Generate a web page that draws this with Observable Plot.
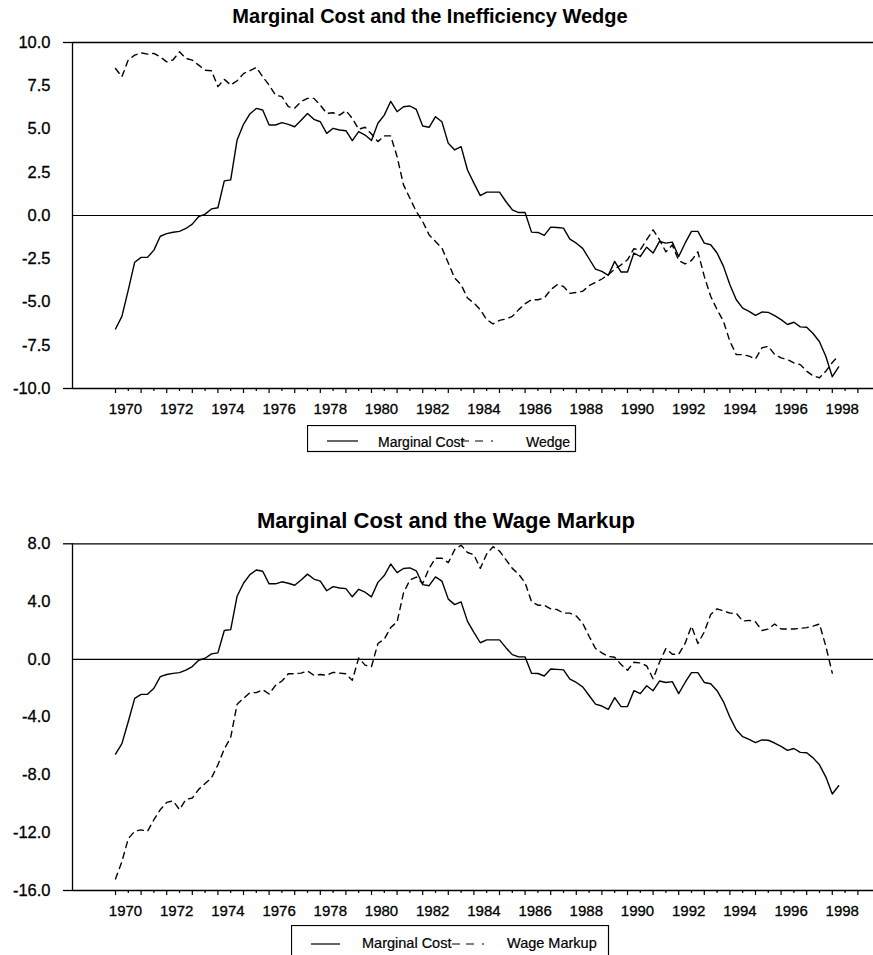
<!DOCTYPE html>
<html><head><meta charset="utf-8">
<script src="https://cdn.jsdelivr.net/npm/d3@7"></script>
<script src="https://cdn.jsdelivr.net/npm/@observablehq/plot@0.6"></script>
<style>
body{margin:0;background:#fff;}
#page{position:relative;width:873px;height:955px;overflow:hidden;font-family:"Liberation Sans",Arial,sans-serif;background:#fff;}
#page > *{position:absolute;}
.ylab text{font-size:16.5px;stroke:#000;stroke-width:0.3px;}
.xlab text{font-size:15px;stroke:#000;stroke-width:0.3px;}
.leg text{stroke:#000;stroke-width:0.2px;}
</style></head><body><div id="page"></div>
<script>
// ---- data (quarterly, first observation 1970Q1) ----
const startYear = 1970;
const marginalCost = [
 -6.56,-5.83,-4.3,-2.7,-2.42,-2.42,-2.0,-1.2,-1.05,-0.97,-0.92,-0.75,-0.5,-0.06,0.08,0.38,
 0.45,2.0,2.06,4.37,5.27,5.87,6.19,6.1,5.23,5.23,5.37,5.27,5.13,5.5,5.9,5.56,
 5.42,4.75,5.04,4.94,4.9,4.33,4.85,4.65,4.33,5.33,5.8,6.6,6.0,6.29,6.33,6.13,
 5.17,5.1,5.71,5.42,4.17,3.79,3.98,2.63,1.87,1.15,1.35,1.35,1.35,0.81,0.33,0.17,
 0.17,-0.96,-0.98,-1.15,-0.67,-0.69,-0.73,-1.37,-1.6,-1.9,-2.5,-3.1,-3.23,-3.46,-2.65,-3.27,
 -3.27,-2.17,-2.37,-1.83,-2.17,-1.5,-1.6,-1.54,-2.37,-1.6,-0.92,-0.92,-1.6,-1.69,-2.17,-2.94,
 -4.0,-4.87,-5.35,-5.54,-5.77,-5.58,-5.6,-5.79,-6.02,-6.3,-6.17,-6.44,-6.46,-6.82,-7.3,-8.15,
 -9.32,-8.75
];
const wedge = [
 8.5,8.02,9.0,9.27,9.4,9.33,9.37,9.17,8.88,9.0,9.46,9.08,8.98,8.69,8.4,8.37,
 7.45,7.87,7.54,7.79,8.2,8.37,8.56,8.02,7.54,6.96,6.87,6.29,6.2,6.58,6.77,6.77,
 6.38,5.9,5.94,5.8,6.06,5.62,4.98,5.1,4.71,4.27,4.6,4.6,3.4,1.77,1.0,0.23,
 -0.35,-1.12,-1.5,-1.88,-2.75,-3.62,-4.0,-4.77,-5.06,-5.44,-6.02,-6.27,-6.06,-5.98,-5.83,-5.44,
 -5.1,-4.87,-4.87,-4.77,-4.29,-4.0,-4.1,-4.5,-4.45,-4.38,-4.06,-3.87,-3.67,-3.42,-3.1,-2.85,
 -2.56,-1.92,-1.98,-1.4,-0.83,-1.4,-2.1,-1.7,-2.6,-2.8,-2.6,-2.1,-3.52,-4.67,-5.44,-6.12,
 -7.27,-8.04,-8.04,-8.13,-8.29,-7.65,-7.56,-8.04,-8.23,-8.33,-8.52,-8.62,-9.0,-9.27,-9.38,-9.0,
 -8.5,-8.1
];
const wageMarkup = [
 -15.2,-14.0,-12.4,-11.9,-11.8,-11.9,-11.1,-10.4,-9.9,-9.8,-10.4,-9.7,-9.6,-9.0,-8.6,-8.2,
 -7.3,-6.2,-5.4,-3.1,-2.7,-2.3,-2.3,-2.1,-2.4,-1.8,-1.5,-1.0,-1.0,-0.95,-0.8,-1.1,
 -1.05,-1.1,-0.9,-0.95,-1.0,-1.45,0.1,-0.4,-0.5,1.1,1.4,2.2,2.6,4.6,5.5,5.7,
 5.25,6.3,7.0,7.0,6.7,7.6,7.9,7.4,7.25,6.3,7.3,7.8,7.5,6.9,6.3,5.9,
 5.3,4.0,3.75,3.75,3.5,3.45,3.2,3.2,3.0,2.5,1.6,0.75,0.45,0.2,0.15,-0.35,
 -0.75,-0.2,-0.25,-0.45,-1.35,-0.2,0.75,0.35,0.35,1.1,2.3,1.1,1.9,3.1,3.5,3.35,
 3.2,3.2,2.65,2.7,2.6,2.0,2.1,2.45,2.1,2.1,2.1,2.15,2.2,2.3,2.45,0.9,
 -0.95
];
const yearLabels = [1970,1972,1974,1976,1978,1980,1982,1984,1986,1988,1990,1992,1994,1996,1998];
const topYTicks = [10,7.5,5,2.5,0,-2.5,-5,-7.5,-10];
const bottomYTicks = [8,4,0,-4,-8,-12,-16];
const titles = ["Marginal Cost and the Inefficiency Wedge", "Marginal Cost and the Wage Markup"];
const legendTop = ["Marginal Cost", "Wedge"];
const legendBottom = ["Marginal Cost", "Wage Markup"];

// ---- build ----
const rows = vals => vals.map((v, i) => ({date: startYear + i / 4, value: v}));
const xDomain = [1968.32, 1999.61];
const yearTicks = d3.range(1970, 1999.5, 1);
const halfTicks = d3.range(1970.5, 1999.5, 1);
const page = document.getElementById("page");

function panel({top, height, marginTop, marginBottom, yDomain, yTicks, other}) {
  const svg = Plot.plot({
    width: 873, height, marginLeft: 72, marginRight: 0, marginTop, marginBottom,
    style: {fontFamily: "'Liberation Sans', Arial, sans-serif", fontSize: "15px", color: "#000", background: "transparent", overflow: "visible"},
    x: {domain: xDomain, label: null},
    y: {domain: yDomain, label: null},
    marks: [
      Plot.axisY({ticks: yTicks, tickFormat: d => d.toFixed(1), tickSize: 0, tickPadding: 22, label: null, className: "ylab"}),
      Plot.axisY({ticks: yDomain, tickSize: 9, text: null, label: null, strokeWidth: 1.3}),
      Plot.axisX({ticks: yearTicks, tickSize: 5, text: null, label: null, strokeWidth: 1.2}),
      Plot.axisX({ticks: halfTicks, tickSize: 3, text: null, label: null, strokeWidth: 1.2}),
      Plot.axisX({ticks: yearLabels, tickSize: 0, tickPadding: 15, dx: 10, label: null, tickFormat: d => String(d), className: "xlab"}),
      Plot.ruleY(yDomain, {strokeWidth: 1.3}),
      Plot.ruleX([xDomain[0]], {strokeWidth: 1.3}),
      Plot.ruleY([0], {strokeWidth: 1.1}),
      Plot.lineY(rows(marginalCost), {x: "date", y: "value", stroke: "black", strokeWidth: 1.4}),
      Plot.lineY(rows(other), {x: "date", y: "value", stroke: "black", strokeWidth: 1.4, strokeDasharray: "6,5"})
    ]
  });
  svg.style.top = top + "px";
  svg.style.left = "0px";
  page.appendChild(svg);
}

function title(text, cx, baseline, size) {
  const s = d3.create("svg").attr("width", 873).attr("height", 40)
    .style("left", "0px").style("top", (baseline - 30) + "px");
  s.append("text").attr("x", cx).attr("y", 30).attr("text-anchor", "middle")
    .attr("font-family", "'Liberation Sans', Arial, sans-serif").attr("font-weight", "bold")
    .attr("font-size", size).attr("fill", "#000").text(text);
  page.appendChild(s.node());
}

function legend(left, top, w, h, labels, g) {
  const s = d3.create("svg").attr("class", "leg").attr("width", w + 2).attr("height", h + 2)
    .style("left", left + "px").style("top", top + "px");
  s.append("rect").attr("x", 0.5).attr("y", 0.5).attr("width", w).attr("height", h)
    .attr("fill", "white").attr("stroke", "#000").attr("stroke-width", 1.2);
  s.append("line").attr("x1", g.s1).attr("x2", g.s2).attr("y1", g.ly).attr("y2", g.ly).attr("stroke", "#000").attr("stroke-width", 1.2);
  s.append("line").attr("x1", g.d1).attr("x2", g.d2).attr("y1", g.ly).attr("y2", g.ly).attr("stroke", "#000").attr("stroke-width", 1.2).attr("stroke-dasharray", "8,6,8,8,2");
  const t = s.append("g").attr("font-family", "'Liberation Sans', Arial, sans-serif").attr("font-size", g.fs).attr("fill", "#000");
  t.append("text").attr("x", g.t1).attr("y", g.by).text(labels[0]);
  t.append("text").attr("x", g.t2).attr("y", g.by).text(labels[1]);
  page.appendChild(s.node());
}

panel({top: 0, height: 420, marginTop: 42, marginBottom: 32, yDomain: [-10, 10], yTicks: topYTicks, other: wedge});
panel({top: 500, height: 420, marginTop: 43.3, marginBottom: 30, yDomain: [-16, 8], yTicks: bottomYTicks, other: wageMarkup});
title(titles[0], 430, 22.7, 20);
title(titles[1], 446, 528, 22);
legend(307, 425, 268, 26, legendTop, {s1: 20, s2: 51, d1: 154, d2: 192, ly: 16, t1: 71, t2: 219, by: 21.5, fs: 14});
legend(291, 925, 317, 40, legendBottom, {s1: 20, s2: 49, d1: 161, d2: 196, ly: 19, t1: 71, t2: 216, by: 22.5, fs: 14.5});
</script></body></html>
